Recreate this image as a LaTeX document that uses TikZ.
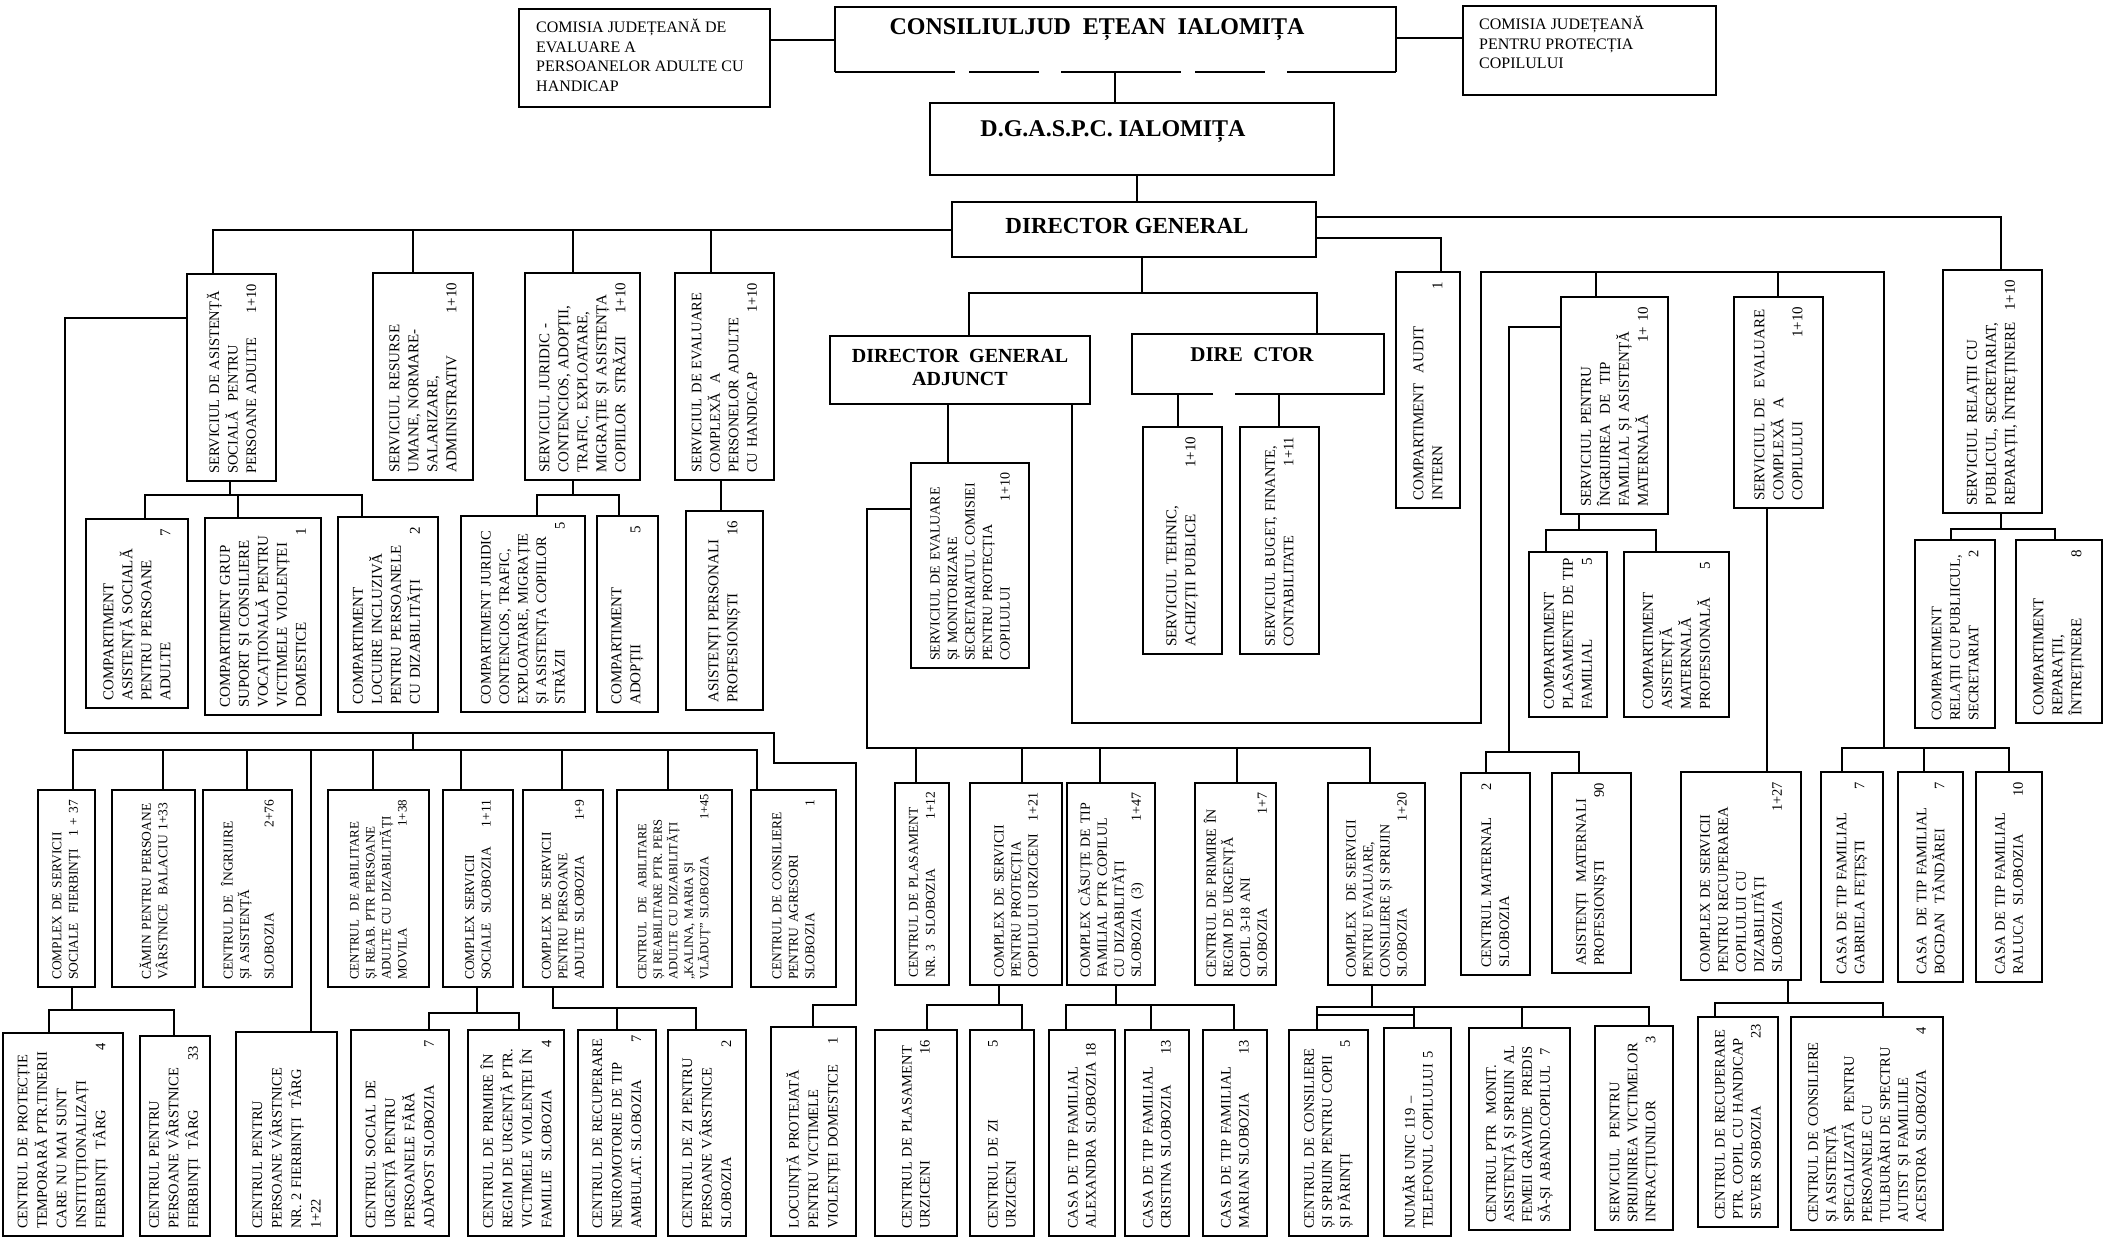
\documentclass[tikz,border=0pt]{standalone}
\usepackage{fontspec}
\setmainfont{Liberation Serif}
\usetikzlibrary{calc}
\tikzset{
  box/.style={draw, line width=1.5pt, inner sep=0pt, outer sep=0pt},
  ln/.style={line width=1.3pt},
  rt/.style={rotate=90, anchor=west, inner sep=0pt, align=left, font=\fontsize{14.5}{18}\selectfont,
    execute at begin node={\hyphenpenalty=10000\exhyphenpenalty=10000}},
  fc/.style={font=\fontsize{14.5}{19.5}\selectfont},
  fs/.style={font=\fontsize{13.5}{16.5}\selectfont},
  fss/.style={font=\fontsize{13}{16}\selectfont},
  fk/.style={font=\fontsize{14}{17}\selectfont},
  fb/.style={font=\fontsize{15}{19}\selectfont},
  fbs/.style={font=\fontsize{14.5}{18.5}\selectfont},
  ttl/.style={inner sep=0pt, font=\bfseries\fontsize{24}{28}\selectfont},
  top/.style={anchor=north west, align=left, inner sep=0pt, font=\fontsize{16}{19.5}\selectfont},
}
\newcommand\obox[7][]{%
  \pgfmathsetmacro\Bw{#5-#3}%
  \pgfmathsetmacro\Bh{#6-#4}%
  \pgfmathsetmacro\Bcx{(#3+#5)/2}%
  \pgfmathsetmacro\Bcy{(#4+#6)/2}%
  \pgfmathsetmacro\Btw{#6-#4-17}%
  \node[box, minimum width=\Bw pt, minimum height=\Bh pt] (#2) at (\Bcx,\Bcy) {};%
  \node[rt, text width=\Btw pt, #1] (#2t) at (\Bcx,#6-7) {#7};%
}
\newcommand\pbox[5]{%
  \pgfmathsetmacro\Bw{#4-#2}%
  \pgfmathsetmacro\Bh{#5-#3}%
  \pgfmathsetmacro\Bcx{(#2+#4)/2}%
  \pgfmathsetmacro\Bcy{(#3+#5)/2}%
  \node[box, minimum width=\Bw pt, minimum height=\Bh pt] (#1) at (\Bcx,\Bcy) {};%
}
\begin{document}
\begin{tikzpicture}[x=1pt,y=-1pt]
\useasboundingbox (0,0) rectangle (2115,1239);
\fill[white] (0,0) rectangle (2115,1239);

% ---------- top ----------
\pbox{A}{519}{9}{770}{107}
\node[top] (At) at (536,19) {COMISIA JUDEȚEANĂ DE\\EVALUARE A\\PERSOANELOR ADULTE CU\\HANDICAP};
\node[inner sep=0pt, outer sep=0pt, minimum width=561pt, minimum height=65pt] (B) at (1115.5,39.5) {};
\draw[box] (B.south west) -- (B.north west) -- (B.north east) -- (B.south east);
\draw[box, dash pattern=on 120pt off 14pt on 70pt off 22pt] (B.south west) -- (B.south east);
\node[ttl] (Bt) at (1097,30) {CONSILIULJUD\ \ EȚEAN\ \ IALOMIȚA};
\pbox{C}{1463}{6}{1716}{95}
\node[top] (Ct) at (1479,16) {COMISIA JUDEȚEANĂ\\PENTRU PROTECȚIA\\COPILULUI};
\pbox{D}{930}{103}{1334}{175}
\node[ttl] (Dt) at (1113,132) {D.G.A.S.P.C. IALOMIȚA};
\pbox{E}{952}{202}{1316}{257}
\node[ttl, font=\bfseries\fontsize{23}{27}\selectfont] (Et) at (1127,226) {DIRECTOR GENERAL};
\pbox{dga}{830}{336}{1090}{404}
\node[ttl, align=center, font=\bfseries\fontsize{20}{23}\selectfont] (dgat) at (960,367) {DIRECTOR\ \ GENERAL\\ADJUNCT};
\node[inner sep=0pt, outer sep=0pt, minimum width=252pt, minimum height=60pt] (dir) at (1258,364) {};
\draw[box] (dir.south -| 1213,0) -- (dir.south west) -- (dir.north west) -- (dir.north east) -- (dir.south east) -- (dir.south -| 1235,0);
\node[ttl, font=\bfseries\fontsize{21}{24}\selectfont] (dirt) at (1252,355) {DIRE\ \ CTOR};

% ---------- level 2 left ----------
\obox[fbs]{sas}{187}{274}{276}{481}{SERVICIUL DE ASISTENȚĂ\\SOCIALĂ\ \ PENTRU\\PERSOANE ADULTE\hfill 1+10}
\obox[fb]{sru}{373}{273}{473}{480}{SERVICIUL RESURSE\\UMANE, NORMARE-\\SALARIZARE,\\ADMINISTRATIV\hfill 1+10}
\obox[fb]{sj}{525}{273}{640}{480}{SERVICIUL JURIDIC -\\CONTENCIOS, ADOPȚII,\\TRAFIC, EXPLOATARE,\\MIGRAȚIE ȘI ASISTENȚA\\COPIILOR\ \ STRĂZII\hfill 1+10}
\obox[fbs]{sea}{675}{273}{774}{480}{SERVICIUL DE EVALUARE\\COMPLEXĂ\ \ A\\PERSONELOR ADULTE\\CU HANDICAP\hfill 1+10}
\obox[fb]{d1}{86}{519}{188}{708}{COMPARTIMENT\\ASISTENȚĂ SOCIALĂ\\PENTRU PERSOANE\\ADULTE\hfill 7}
\obox[fb]{d2}{205}{518}{321}{715}{COMPARTIMENT GRUP\\SUPORT ȘI CONSILIERE\\VOCAȚIONALĂ PENTRU\\VICTIMELE VIOLENȚEI\\DOMESTICE\hfill 1}
\obox[fb]{d3}{338}{517}{438}{712}{COMPARTIMENT\\LOCUIRE INCLUZIVĂ\\PENTRU PERSOANELE\\CU DIZABILITĂȚI\hfill 2}
\obox[fbs, text width=183pt]{d4}{461}{516}{585}{712}{COMPARTIMENT JURIDIC\\CONTENCIOS, TRAFIC,\\EXPLOATARE, MIGRAȚIE\\ȘI ASISTENȚA COPIILOR\\STRĂZII\hfill 5}
\obox[fb]{d5}{597}{516}{658}{712}{COMPARTIMENT\\ADOPȚII\hfill 5}
\obox[fb]{d6}{686}{511}{763}{710}{ASISTENȚI PERSONALI\\PROFESIONIȘTI\hfill 16}

% ---------- level 2 middle/right ----------
\obox[fb]{audit}{1396}{272}{1460}{508}{COMPARTIMENT\ \ AUDIT\\INTERN\hfill 1}
\obox[fk, font=\fontsize{14}{17.5}\selectfont]{f1}{911}{463}{1029}{668}{SERVICIUL DE EVALUARE\\ȘI MONITORIZARE\\SECRETARIATUL COMISIEI\\PENTRU PROTECȚIA\\COPILULUI\hfill 1+10}
\obox[fb]{g1}{1143}{427}{1222}{654}{SERVICIUL TEHNIC,\\ACHIZȚII PUBLICE\hfill 1+10}
\obox[fbs]{g2}{1240}{427}{1319}{654}{SERVICIUL BUGET, FINANTE,\\CONTABILITATE\hfill 1+11}
\obox[fb]{h1}{1561}{297}{1668}{514}{SERVICIUL PENTRU\\ÎNGRIJIREA\ \ DE\ \ TIP\\FAMILIAL ȘI ASISTENȚĂ\\MATERNALĂ\hfill 1+ 10}
\obox[fb]{h2}{1734}{297}{1823}{508}{SERVICIUL DE\ \ EVALUARE\\COMPLEXĂ\ \ A\\COPILULUI\hfill 1+10}
\obox[fb]{h3}{1943}{270}{2042}{513}{SERVICIUL RELAȚII CU\\PUBLICUL, SECRETARIAT,\\REPARAȚII, ÎNTREȚINERE\hfill 1+10}
\obox[fb, text width=152pt]{i1}{1529}{552}{1607}{717}{COMPARTIMENT\\PLASAMENTE DE TIP\\FAMILIAL\hfill 5}
\obox[fb]{i2}{1624}{552}{1729}{717}{COMPARTIMENT\\ASISTENȚĂ\\MATERNALĂ\\PROFESIONALĂ\hfill 5}
\obox[fbs]{j1}{1915}{540}{1995}{728}{COMPARTIMENT\\RELAȚII CU PUBLIICUL,\\SECRETARIAT\hfill 2}
\obox[fb]{j2}{2016}{540}{2102}{723}{COMPARTIMENT\\REPARAȚII,\\ÎNTREȚINERE\hfill 8}

% ---------- level 3 left ----------
\obox[fs]{b1}{38}{790}{95}{987}{COMPLEX DE SERVICII\\SOCIALE\ \ FIERBINȚI\hfill 1 + 37}
\obox[fs]{b2}{112}{790}{195}{987}{CĂMIN PENTRU PERSOANE\\VÂRSTNICE\ \ BALACIU 1+33}
\obox[fs]{b3}{203}{790}{292}{987}{CENTRUL DE\ \ ÎNGRIJIRE\\ȘI ASISTENȚĂ\\[8pt]SLOBOZIA\hfill 2+76}
\obox[fss]{b4}{328}{790}{429}{987}{CENTRUL\ \ DE ABILITARE\\ȘI REAB. PTR PERSOANE\\ADULTE CU DIZABILITĂȚI\\MOVILA\hfill 1+38}
\obox[fs]{b5}{443}{790}{513}{987}{COMPLEX SERVICII\\SOCIALE\ \ SLOBOZIA\hfill 1+11}
\obox[fs]{b6}{523}{790}{603}{987}{COMPLEX DE SERVICII\\PENTRU PERSOANE\\ADULTE SLOBOZIA\hfill 1+9}
\obox[fss, font=\fontsize{12.5}{15.5}\selectfont, text width=186pt]{b7}{617}{790}{732}{987}{CENTRUL\ \ DE\ \ ABILITARE\\ȘI REABILITARE PTR. PERS\\ADULTE CU DIZABILITĂȚI\\„KALINA, MARIA ȘI\\VLĂDUȚ” SLOBOZIA\hfill 1+45}
\obox[fs]{b8}{751}{790}{836}{987}{CENTRUL DE CONSILIERE\\PENTRU AGRESORI\\SLOBOZIA\hfill 1}

% ---------- level 4 left ----------
\obox[fc]{c1}{3}{1033}{123}{1236}{CENTRUL DE PROTECȚIE\\TEMPORARĂ PTR.TINERII\\CARE NU MAI SUNT\\INSTITUȚIONALIZAȚI\\FIERBINȚI\ \ TÂRG\hfill 4}
\obox[fc]{c2}{140}{1036}{210}{1236}{CENTRUL PENTRU\\PERSOANE VÂRSTNICE\\FIERBINȚI\ \ TÂRG\hfill 33}
\obox[fc]{c3}{236}{1032}{337}{1236}{CENTRUL PENTRU\\PERSOANE VÂRSTNICE\\NR. 2 FIERBINȚI\ \ TÂRG\\1+22}
\obox[fc]{c4}{351}{1030}{449}{1236}{CENTRUL SOCIAL DE\\URGENȚĂ PENTRU\\PERSOANELE FĂRĂ\\ADĂPOST SLOBOZIA\hfill 7}
\obox[fc]{c5}{468}{1030}{564}{1236}{CENTRUL DE PRIMIRE ÎN\\REGIM DE URGENȚĂ PTR.\\VICTIMELE VIOLENȚEI ÎN\\FAMILIE\ \ SLOBOZIA\hfill 4}
\obox[fc, text width=194pt]{c6}{578}{1030}{656}{1236}{CENTRUL DE RECUPERARE\\NEUROMOTORIE DE TIP\\AMBULAT. SLOBOZIA\hfill 7}
\obox[fc]{c7}{668}{1030}{746}{1236}{CENTRUL DE ZI PENTRU\\PERSOANE VÂRSTNICE\\SLOBOZIA\hfill 2}
\obox[fc]{c8}{771}{1027}{856}{1236}{LOCUINȚĂ PROTEJATĂ\\PENTRU VICTIMELE\\VIOLENȚEI DOMESTICE\hfill 1}

% ---------- level 3 middle ----------
\obox[fk, font=\fontsize{13.5}{17}\selectfont, text width=186pt]{k1}{895}{783}{949}{985}{CENTRUL DE PLASAMENT\\NR. 3\ \ SLOBOZIA\hfill 1+12}
\obox[fk]{k2}{970}{783}{1062}{985}{COMPLEX DE SERVICII\\PENTRU PROTECȚIA\\COPILULUI URZICENI\hfill 1+21}
\obox[fk]{k3}{1067}{783}{1155}{985}{COMPLEX CĂSUȚE DE TIP\\FAMILIAL PTR COPILUL\\CU DIZABILITĂȚI\\SLOBOZIA\ \ (3)\hfill 1+47}
\obox[fk]{k4}{1195}{783}{1276}{985}{CENTRUL DE PRIMIRE ÎN\\REGIM DE URGENȚĂ\\COPIL 3-18 ANI\\SLOBOZIA\hfill 1+7}
\obox[fk]{k5}{1328}{783}{1425}{985}{COMPLEX\ \ DE SERVICII\\PENTRU EVALUARE,\\CONSILIERE ȘI SPRIJIN\\SLOBOZIA\hfill 1+20}

% ---------- level 4 middle/right ----------
\obox{l1}{875}{1030}{957}{1236}{CENTRUL DE PLASAMENT\\URZICENI\hfill 16}
\obox{l2}{970}{1030}{1034}{1236}{CENTRUL DE ZI\hfill 5\\URZICENI}
\obox{l3}{1049}{1030}{1115}{1236}{CASA DE TIP FAMILIAL\\ALEXANDRA SLOBOZIA 18}
\obox{l4}{1125}{1030}{1189}{1236}{CASA DE TIP FAMILIAL\\CRISTINA SLOBOZIA\hfill 13}
\obox{l5}{1203}{1030}{1267}{1236}{CASA DE TIP FAMILIAL\\MARIAN SLOBOZIA\hfill 13}
\obox{l6}{1289}{1030}{1368}{1236}{CENTRUL DE CONSILIERE\\ȘI SPRIJIN PENTRU COPII\\ȘI PĂRINȚI\hfill 5}
\obox{l7}{1384}{1028}{1451}{1236}{NUMĂR UNIC 119 –\\TELEFONUL COPILULUI 5}
\obox{l8}{1469}{1028}{1570}{1230}{CENTRUL PTR\ \ MONIT.\\ASISTENȚĂ ȘI SPRIJIN AL\\FEMEII GRAVIDE\ \ PREDIS\\SĂ-ȘI ABAND.COPILUL\ \ 7}
\obox{l9}{1595}{1026}{1673}{1230}{SERVICIUL\ \ PENTRU\\SPRIJINIREA VICTIMELOR\\INFRACȚIUNILOR\hfill 3}
\obox[text width=196pt]{l10}{1698}{1017}{1778}{1227}{CENTRUL DE RECUPERARE\\PTR. COPIL CU HANDICAP\\SEVER SOBOZIA\hfill 23}
\obox{l11}{1791}{1017}{1943}{1230}{CENTRUL DE CONSILIERE\\ȘI ASISTENȚĂ\\SPECIALIZATĂ\ \ PENTRU\\PERSOANELE CU\\TULBURĂRI DE SPECTRU\\AUTIST ȘI FAMILIILE\\ACESTORA SLOBOZIA\hfill 4}

% ---------- level 3 right ----------
\obox{m1}{1461}{773}{1530}{975}{CENTRUL MATERNAL\hfill 2\\SLOBOZIA}
\obox{m2}{1552}{773}{1631}{973}{ASISTENȚI\ \ MATERNALI\\PROFESIONIȘTI\hfill 90}
\obox{m3}{1681}{772}{1801}{980}{COMPLEX DE SERVICII\\PENTRU RECUPERAREA\\COPILULUI CU\\DIZABILITĂȚI\\SLOBOZIA\hfill 1+27}
\obox{m4}{1821}{772}{1883}{982}{CASA DE TIP FAMILIAL\\GABRIELA FEȚEȘTI\hfill 7}
\obox{m5}{1898}{772}{1963}{982}{CASA\ \ DE TIP FAMILIAL\\BOGDAN\ \ TĂNDĂREI\hfill 7}
\obox{m6}{1976}{772}{2042}{982}{CASA DE TIP FAMILIAL\\RALUCA\ \ SLOBOZIA\hfill 10}

% ---------- connectors ----------
\draw[ln] (A.east |- 0,40) -- (B.west |- 0,40);
\draw[ln] (B.east |- 0,38) -- (C.west |- 0,38);
\draw[ln] (B.south -| 1115,0) -- (D.north -| 1115,0);
\draw[ln] (D.south -| 1137,0) -- (E.north -| 1137,0);
% DG left bus
\draw[ln] (E.west |- 0,230) -| (sas.north -| 213,0);
\foreach \x/\n in {413/sru,573/sj,711/sea} \draw[ln] (\x,230) -- (\n.north -| \x,0);
% DG right
\draw[ln] (E.east |- 0,217) -| (h3.north -| 2001,0);
\draw[ln] (E.east |- 0,238) -| (audit.north -| 1441,0);
% DG down
\draw[ln] (E.south -| 1142,0) -- (1142,293);
\draw[ln] (dga.north -| 969,0) -- (969,293) -| (dir.north -| 1317,0);
% DGA
\draw[ln] (dga.south -| 948,0) -- (f1.north -| 948,0);
\draw[ln] (f1.west |- 0,509) -| (867,748) -| (k5.north -| 1370,0);
\foreach \x/\n in {916/k1,1022/k2,1100/k3,1237/k4} \draw[ln] (\x,748) -- (\n.north -| \x,0);
\draw[ln] (dga.south -| 1072,0) |- (1481,723) |- (1884,272) -- (1884,748);
\draw[ln] (1596,272) -- (h1.north -| 1596,0);
\draw[ln] (1778,272) -- (h2.north -| 1778,0);
\draw[ln] (m4.north -| 1842,0) -- (1842,748) -- (2009,748) -- (m6.north -| 2009,0);
\draw[ln] (1924,748) -- (m5.north -| 1924,0);
% H1
\draw[ln] (h1.west |- 0,327) -| (1509,752);
\draw[ln] (m1.north -| 1486,0) -- (1486,752) -- (1579,752) -- (m2.north -| 1579,0);
\draw[ln] (h1.south -| 1579,0) -- (1579,530);
\draw[ln] (i1.north -| 1546,0) -- (1546,530) -- (1656,530) -- (i2.north -| 1656,0);
% H2
\draw[ln] (h2.south -| 1767,0) -- (m3.north -| 1767,0);
\draw[ln] (m3.south -| 1788,0) -- (1788,1003);
\draw[ln] (l10.north -| 1715,0) -- (1715,1003) -- (1883,1003) -- (l11.north -| 1883,0);
% H3
\draw[ln] (h3.south -| 2001,0) -- (2001,529);
\draw[ln] (j1.north -| 1951,0) -- (1951,529) -- (2055,529) -- (j2.north -| 2055,0);
% DIRECTOR
\draw[ln] (dir.south -| 1178,0) -- (g1.north -| 1178,0);
\draw[ln] (dir.south -| 1279,0) -- (g2.north -| 1279,0);
% SAS chain
\draw[ln] (sas.west |- 0,318) -| (65,733) -| (774,763) -| (856,1005) -| (c8.north -| 813,0);
\draw[ln] (413,733) -- (413,750);
\draw[ln] (b1.north -| 73,0) -- (73,750) -- (757,750) -- (b8.north -| 757,0);
\foreach \x/\n in {163/b2,247/b3,373/b4,461/b5,562/b6,668/b7} \draw[ln] (\x,750) -- (\n.north -| \x,0);
\draw[ln] (311,750) -- (c3.north -| 311,0);
\draw[ln] (sas.south -| 230,0) -- (230,495);
\draw[ln] (d1.north -| 145,0) -- (145,495) -- (362,495) -- (d3.north -| 362,0);
\draw[ln] (238,495) -- (d2.north -| 238,0);
\draw[ln] (sj.south -| 573,0) -- (573,495);
\draw[ln] (d4.north -| 537,0) -- (537,495) -- (619,495) -- (d5.north -| 619,0);
\draw[ln] (sea.south -| 721,0) -- (d6.north -| 721,0);
% level 3 -> 4 left
\draw[ln] (b1.south -| 72,0) -- (72,1010);
\draw[ln] (c1.north -| 49,0) -- (49,1010) -- (174,1010) -- (c2.north -| 174,0);
\draw[ln] (b5.south -| 477,0) -- (477,1013);
\draw[ln] (c4.north -| 429,0) -- (429,1013) -- (519,1013) -- (c5.north -| 519,0);
\draw[ln] (b6.south -| 553,0) -- (553,1008) -- (696,1008) -- (c7.north -| 696,0);
\draw[ln] (617,1008) -- (c6.north -| 617,0);
% level 3 -> 4 middle
\draw[ln] (k2.south -| 999,0) -- (999,1005);
\draw[ln] (l1.north -| 927,0) -- (927,1005) -- (1022,1005) -- (l2.north -| 1022,0);
\draw[ln] (k3.south -| 1116,0) -- (1116,1005);
\draw[ln] (l3.north -| 1066,0) -- (1066,1005) -- (1234,1005) -- (l5.north -| 1234,0);
\draw[ln] (1151,1005) -- (l4.north -| 1151,0);
\draw[ln] (k5.south -| 1372,0) -- (1372,1007);
\draw[ln] (l6.north -| 1317,0) -- (1317,1007) -- (1649,1007) -- (l9.north -| 1649,0);
\draw[ln] (1317,1015) -- (1414,1015);
\draw[ln] (1414,1007) -- (l7.north -| 1414,0);
\draw[ln] (1522,1007) -- (l8.north -| 1522,0);
\end{tikzpicture}
\end{document}
